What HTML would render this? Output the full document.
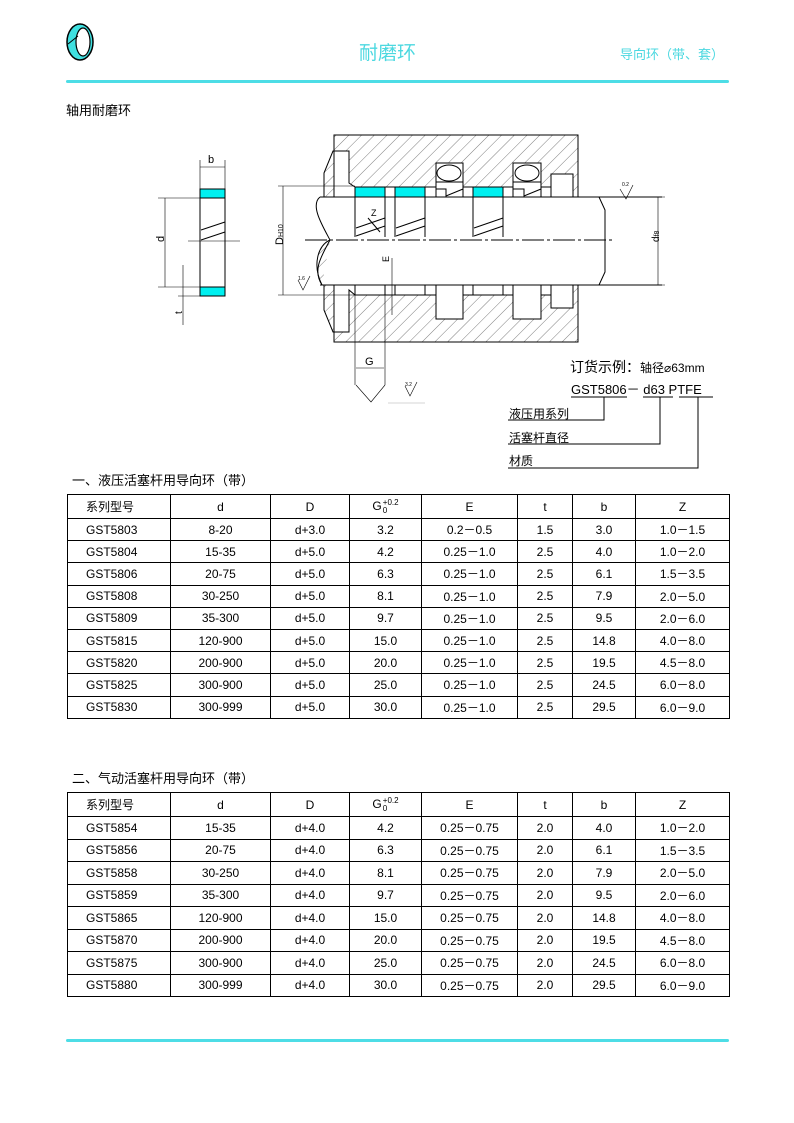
<!DOCTYPE html>
<html><head><meta charset="utf-8">
<style>
body{margin:0;background:#fff;}
#p{position:relative;width:794px;height:1123px;overflow:hidden;font-family:"Liberation Sans","Noto Sans CJK SC",sans-serif;color:#000;}
.t{position:absolute;white-space:nowrap;}
table{position:absolute;border-collapse:collapse;font-size:12px;table-layout:fixed;}
td{border:1px solid #000;text-align:center;padding:0;height:21.2px;}
#t2 td{height:21.5px;}
td:first-child{text-align:left;padding-left:18px;}
tr:first-child td{height:23px !important;}
.g{display:inline-block;vertical-align:middle;line-height:8px;font-size:8px;text-align:left;margin-left:1px}
</style></head><body><div id="p">
<svg width="40" height="40" style="position:absolute;left:60px;top:22px" viewBox="0 0 40 40">
<ellipse cx="20" cy="20" rx="13" ry="18" fill="#3fe0e0" stroke="#000" stroke-width="1.5"/>
<ellipse cx="23" cy="20" rx="7" ry="14" fill="#fff" stroke="#000" stroke-width="1.2"/>
<line x1="8" y1="22" x2="18" y2="14" stroke="#000"/>
</svg>
<div class="t" style="left:359px;top:38px;font-size:19px;color:#4cd8e0">耐磨环</div>
<div class="t" style="left:620px;top:44px;font-size:13px;color:#4cd8e0">导向环（带、套）</div>
<div style="position:absolute;left:66px;top:80px;width:663px;height:3px;background:#4ddde6;border-radius:2px"></div>
<div class="t" style="left:66px;top:100px;font-size:13px">轴用耐磨环</div>

<svg width="794" height="480" style="position:absolute;left:0;top:0" viewBox="0 0 794 480" font-family="Liberation Sans" font-size="10">
<defs><pattern id="h" width="9" height="9" patternUnits="userSpaceOnUse" patternTransform="rotate(45)"><line x1="0" y1="0" x2="0" y2="9" stroke="#000" stroke-width="0.5"/></pattern></defs>
<g stroke="#000" fill="none" stroke-width="1">
<path d="M334 135 H578 V197 H573 V174 H551 V187 H541 V163 H513 V187 H503 V187 H473 V187 H463 V163 H436 V187 H425 H395 H385 H355 L349 183 V151 H333 L324 173 V197 H334 Z" fill="url(#h)"/>
<path d="M334 342 H578 V285 H573 V308 H551 V295 H541 V319 H513 V295 H503 H473 H463 V319 H436 V295 H425 H395 H385 H355 L349 290 V332 H333 L324 310 V285 H334 Z" fill="url(#h)"/>
<rect x="355" y="187" width="30" height="10" fill="#00f0f0"/>
<rect x="395" y="187" width="30" height="10" fill="#00f0f0"/>
<rect x="473" y="187" width="30" height="10" fill="#00f0f0"/>
<rect x="355" y="285" width="30" height="10" fill="#fff"/>
<rect x="395" y="285" width="30" height="10" fill="#fff"/>
<rect x="473" y="285" width="30" height="10" fill="#fff"/>
<rect x="436" y="163" width="27" height="34" fill="#fff"/>
<rect x="513" y="163" width="28" height="34" fill="#fff"/>
<ellipse cx="449" cy="173" rx="12" ry="8" fill="#fff"/>
<ellipse cx="527" cy="173" rx="12" ry="8" fill="#fff"/>
<path d="M436 182 H463 V189 L446 196 V189 H436"/>
<path d="M513 182 H541 V189 L524 196 V189 H513"/>
<rect x="551" y="174" width="22" height="23" fill="#fff"/>
<rect x="436" y="285" width="27" height="34" fill="#fff"/>
<rect x="513" y="285" width="28" height="34" fill="#fff"/>
<rect x="551" y="285" width="22" height="23" fill="#fff"/>
<line x1="320" y1="197" x2="662" y2="197"/>
<line x1="320" y1="285" x2="662" y2="285"/>
<path d="M599 197 L605 210 V272 L599 285"/>
<path d="M320 197 C310 205 322 225 330 240 C322 255 312 270 322 285"/>
<path d="M330 240 C318 245 312 265 322 285" fill="url(#h)"/>
<line x1="355" y1="197" x2="355" y2="237"/><line x1="385" y1="197" x2="385" y2="237"/>
<line x1="395" y1="197" x2="395" y2="237"/><line x1="425" y1="197" x2="425" y2="237"/>
<line x1="473" y1="197" x2="473" y2="237"/><line x1="503" y1="197" x2="503" y2="237"/>
<path d="M356 228 L385 218 M356 236 L385 226 M396 228 L425 218 M396 236 L425 226 M474 228 L503 218 M474 236 L503 226"/>
<line x1="368" y1="218" x2="380" y2="232"/>
<line x1="305" y1="240" x2="615" y2="240" stroke-dasharray="22 3 3 3"/>
<line x1="278" y1="186" x2="355" y2="186" stroke-width="0.6"/>
<line x1="278" y1="295" x2="355" y2="295" stroke-width="0.6"/>
<line x1="283" y1="186" x2="283" y2="295" stroke-width="0.6"/>
<line x1="607" y1="197" x2="665" y2="197" stroke-width="0.6"/>
<line x1="607" y1="285" x2="665" y2="285" stroke-width="0.6"/>
<line x1="658" y1="197" x2="658" y2="285" stroke-width="0.6"/>
<line x1="355" y1="295" x2="355" y2="385" stroke-width="0.6"/>
<line x1="385" y1="295" x2="385" y2="385" stroke-width="0.6"/>
<line x1="356" y1="368" x2="384" y2="368" stroke-width="0.6"/>
<path d="M356 385 L371 402 L385 385" stroke-width="0.6"/>
<line x1="392" y1="258" x2="392" y2="315" stroke-width="0.6"/>
<rect x="200" y="189" width="25" height="9" fill="#00f0f0"/>
<rect x="200" y="287" width="25" height="9" fill="#00f0f0"/>
<line x1="200" y1="198" x2="200" y2="287"/><line x1="225" y1="198" x2="225" y2="287"/>
<path d="M201 230 L225 222 M201 240 L225 232"/>
<line x1="188" y1="241" x2="240" y2="241" stroke-width="0.6"/>
<line x1="158" y1="198" x2="200" y2="198" stroke-width="0.6"/>
<line x1="158" y1="287" x2="200" y2="287" stroke-width="0.6"/>
<line x1="165" y1="198" x2="165" y2="287" stroke-width="0.6"/>
<line x1="178" y1="296" x2="200" y2="296" stroke-width="0.6"/>
<line x1="183" y1="265" x2="183" y2="325" stroke-width="0.6"/>
<line x1="200" y1="160" x2="200" y2="189" stroke-width="0.6"/>
<line x1="225" y1="160" x2="225" y2="189" stroke-width="0.6"/>
<line x1="200" y1="167" x2="225" y2="167" stroke-width="0.6"/>
<path d="M298 280 L303 290 L310 276 M620 189 L626 199 L633 185 M405 386 L410 396 L417 382" stroke-width="0.6"/>
<line x1="388" y1="403" x2="425" y2="403" stroke="#aaa" stroke-width="0.6"/>
<path d="M571 397 H627 M643 397 H673 M679 397 H713 M604 397 V420 H508 M660 397 V444 H508 M698 397 V468 H508" stroke-width="1"/>
</g>
<g fill="#000">
<text x="208" y="163" font-size="11">b</text>
<text x="160" y="246" font-size="11" transform="rotate(-90 160 242)">d</text>
<text x="180" y="320" font-size="10" transform="rotate(-90 178 316)">t</text>
<text x="278" y="250" font-size="11" transform="rotate(-90 278 245)">D<tspan font-size="7">H10</tspan></text>
<text x="654" y="247" font-size="10" transform="rotate(-90 654 242)">d<tspan font-size="7">f8</tspan></text>
<text x="371" y="216" font-size="9">Z</text>
<text x="387" y="268" font-size="9" transform="rotate(-90 385 264)">E</text>
<text x="365" y="365" font-size="11">G</text>
<text x="298" y="280" font-size="5">1.6</text>
<text x="622" y="186" font-size="5">0.2</text>
<text x="405" y="386" font-size="5">3.2</text>
</g>
</svg>

<div class="t" style="left:570px;top:357px;font-size:14px">订货示例：<span style="font-size:12px">轴径⌀63mm</span></div>
<div class="t" style="left:571px;top:379px;font-size:13px">GST5806－ d63 PTFE</div>
<div class="t" style="left:509px;top:405px;font-size:12px">液压用系列</div>
<div class="t" style="left:509px;top:429px;font-size:12px">活塞杆直径</div>
<div class="t" style="left:509px;top:452px;font-size:12px">材质</div>

<div class="t" style="left:72px;top:470px;font-size:13px">一、液压活塞杆用导向环（带）</div>
<table style="left:67px;top:494px;width:662px">
<colgroup><col style="width:103px"><col style="width:100px"><col style="width:79px"><col style="width:72px"><col style="width:96px"><col style="width:55px"><col style="width:63px"><col style="width:94px"></colgroup>
<tr><td>系列型号</td><td>d</td><td>D</td><td>G<span class="g">+0.2<br>0</span></td><td>E</td><td>t</td><td>b</td><td>Z</td></tr>
<tr><td>GST5803</td><td>8-20</td><td>d+3.0</td><td>3.2</td><td>0.2－0.5</td><td>1.5</td><td>3.0</td><td>1.0－1.5</td></tr>
<tr><td>GST5804</td><td>15-35</td><td>d+5.0</td><td>4.2</td><td>0.25－1.0</td><td>2.5</td><td>4.0</td><td>1.0－2.0</td></tr>
<tr><td>GST5806</td><td>20-75</td><td>d+5.0</td><td>6.3</td><td>0.25－1.0</td><td>2.5</td><td>6.1</td><td>1.5－3.5</td></tr>
<tr><td>GST5808</td><td>30-250</td><td>d+5.0</td><td>8.1</td><td>0.25－1.0</td><td>2.5</td><td>7.9</td><td>2.0－5.0</td></tr>
<tr><td>GST5809</td><td>35-300</td><td>d+5.0</td><td>9.7</td><td>0.25－1.0</td><td>2.5</td><td>9.5</td><td>2.0－6.0</td></tr>
<tr><td>GST5815</td><td>120-900</td><td>d+5.0</td><td>15.0</td><td>0.25－1.0</td><td>2.5</td><td>14.8</td><td>4.0－8.0</td></tr>
<tr><td>GST5820</td><td>200-900</td><td>d+5.0</td><td>20.0</td><td>0.25－1.0</td><td>2.5</td><td>19.5</td><td>4.5－8.0</td></tr>
<tr><td>GST5825</td><td>300-900</td><td>d+5.0</td><td>25.0</td><td>0.25－1.0</td><td>2.5</td><td>24.5</td><td>6.0－8.0</td></tr>
<tr><td>GST5830</td><td>300-999</td><td>d+5.0</td><td>30.0</td><td>0.25－1.0</td><td>2.5</td><td>29.5</td><td>6.0－9.0</td></tr>
</table>

<div class="t" style="left:72px;top:768px;font-size:13px">二、气动活塞杆用导向环（带）</div>
<table id="t2" style="left:67px;top:792px;width:662px">
<colgroup><col style="width:103px"><col style="width:100px"><col style="width:79px"><col style="width:72px"><col style="width:96px"><col style="width:55px"><col style="width:63px"><col style="width:94px"></colgroup>
<tr><td>系列型号</td><td>d</td><td>D</td><td>G<span class="g">+0.2<br>0</span></td><td>E</td><td>t</td><td>b</td><td>Z</td></tr>
<tr><td>GST5854</td><td>15-35</td><td>d+4.0</td><td>4.2</td><td>0.25－0.75</td><td>2.0</td><td>4.0</td><td>1.0－2.0</td></tr>
<tr><td>GST5856</td><td>20-75</td><td>d+4.0</td><td>6.3</td><td>0.25－0.75</td><td>2.0</td><td>6.1</td><td>1.5－3.5</td></tr>
<tr><td>GST5858</td><td>30-250</td><td>d+4.0</td><td>8.1</td><td>0.25－0.75</td><td>2.0</td><td>7.9</td><td>2.0－5.0</td></tr>
<tr><td>GST5859</td><td>35-300</td><td>d+4.0</td><td>9.7</td><td>0.25－0.75</td><td>2.0</td><td>9.5</td><td>2.0－6.0</td></tr>
<tr><td>GST5865</td><td>120-900</td><td>d+4.0</td><td>15.0</td><td>0.25－0.75</td><td>2.0</td><td>14.8</td><td>4.0－8.0</td></tr>
<tr><td>GST5870</td><td>200-900</td><td>d+4.0</td><td>20.0</td><td>0.25－0.75</td><td>2.0</td><td>19.5</td><td>4.5－8.0</td></tr>
<tr><td>GST5875</td><td>300-900</td><td>d+4.0</td><td>25.0</td><td>0.25－0.75</td><td>2.0</td><td>24.5</td><td>6.0－8.0</td></tr>
<tr><td>GST5880</td><td>300-999</td><td>d+4.0</td><td>30.0</td><td>0.25－0.75</td><td>2.0</td><td>29.5</td><td>6.0－9.0</td></tr>
</table>

<div style="position:absolute;left:66px;top:1039px;width:663px;height:3px;background:#4ddde6;border-radius:2px"></div>
</div></body></html>
